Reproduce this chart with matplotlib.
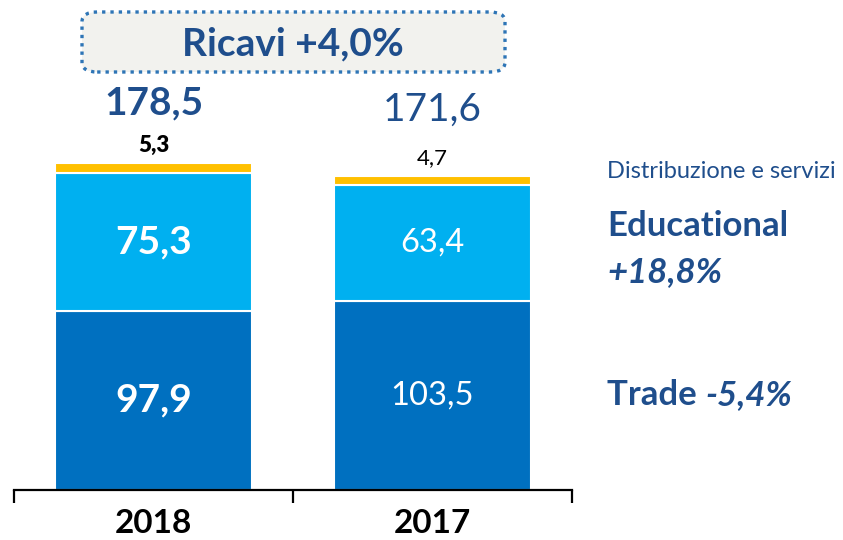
import matplotlib
matplotlib.use('Agg')
import matplotlib.pyplot as plt
from matplotlib.patches import FancyBboxPatch

plt.rcParams['font.family'] = ['Lato', 'DejaVu Sans']

# dati (milioni di euro)
anni = ['2018', '2017']
trade = [97.9, 103.5]
educational = [75.3, 63.4]
distribuzione = [5.3, 4.7]
totali = ['178,5', '171,6']
etichette_trade = ['97,9', '103,5']
etichette_edu = ['75,3', '63,4']
etichette_dist = ['5,3', '4,7']

c_trade = '#0070c0'
c_edu = '#00b0f0'
c_dist = '#ffc000'
c_testo = '#1f4e8c'

W, H = 843, 540
fig = plt.figure(figsize=(W / 100, H / 100), dpi=100)
ax = fig.add_axes([14 / W, 50 / H, 558 / W, 490 / H])

x = [0, 1]
larg = 0.705
ax.bar(x, trade, width=larg, color=c_trade, edgecolor='white', linewidth=1.5)
ax.bar(x, educational, width=larg, bottom=trade, color=c_edu, edgecolor='white', linewidth=1.5)
base_dist = [t + e for t, e in zip(trade, educational)]
ax.bar(x, distribuzione, width=larg, bottom=base_dist, color=c_dist, edgecolor='white', linewidth=1.5)

ax.set_xlim(-0.5, 1.5)
ax.set_ylim(0, 267.7)

# etichette dentro le barre
for i in x:
    peso = 'bold' if i == 0 else 'normal'
    dim = 28 if i == 0 else 23.5
    ax.text(i, trade[i] / 2, etichette_trade[i], ha='center', va='center',
            color='white', fontsize=dim, fontweight=peso)
    ax.text(i, trade[i] + educational[i] / 2, etichette_edu[i], ha='center', va='center',
            color='white', fontsize=dim, fontweight=peso)
    top = base_dist[i] + distribuzione[i]
    ax.text(i, top + 10, etichette_dist[i], ha='center', va='center',
            color='black', fontsize=16, fontweight='heavy' if i == 0 else 'normal')
    ax.text(i, top + (33 if i == 0 else 36), totali[i], ha='center', va='center',
            color=c_testo, fontsize=28, fontweight=peso)

# assi
for s in ['top', 'right', 'left']:
    ax.spines[s].set_visible(False)
ax.spines['bottom'].set_linewidth(1.6)
ax.set_yticks([])
ax.set_xticks(x)
ax.set_xticklabels(anni, fontsize=24, fontweight='bold')
ax.tick_params(axis='x', which='major', length=0, pad=14)
ax.set_xticks([-0.5, 0.5, 1.5], minor=True)
ax.tick_params(axis='x', which='minor', direction='out', length=9, width=1.6)

# riquadro titolo
box = FancyBboxPatch((82 / W, 1 - 72 / H), 423 / W, 60 / H,
                     boxstyle='round,pad=0,rounding_size=0.018',
                     transform=fig.transFigure, facecolor='#f2f2ee',
                     edgecolor='#2e75b6', linewidth=2.4, linestyle=(0, (1, 1.5)))
fig.add_artist(box)
fig.text(293 / W, 1 - 44 / H, 'Ricavi +4,0%', ha='center', va='center',
         fontsize=28, fontweight='bold', color=c_testo)

# legenda a destra
fig.text(607 / W, 1 - 172 / H, 'Distribuzione e servizi', ha='left', va='center',
         fontsize=17, color=c_testo)
fig.text(607 / W, 1 - 226 / H, 'Educational', ha='left', va='center',
         fontsize=25, fontweight='bold', color=c_testo)
fig.text(607 / W, 1 - 272 / H, '+18,8%', ha='left', va='center',
         fontsize=25, fontweight='bold', fontstyle='italic', color=c_testo)
t = fig.text(607 / W, 1 - 395 / H, 'Trade ', ha='left', va='center',
             fontsize=25, fontweight='bold', color=c_testo)
fig.canvas.draw()
bb = t.get_window_extent()
fig.text(bb.x1 / W, 1 - 395 / H, '-5,4%', ha='left', va='center',
         fontsize=25, fontweight='bold', fontstyle='italic', color=c_testo)

plt.savefig('out.png', dpi=100)
